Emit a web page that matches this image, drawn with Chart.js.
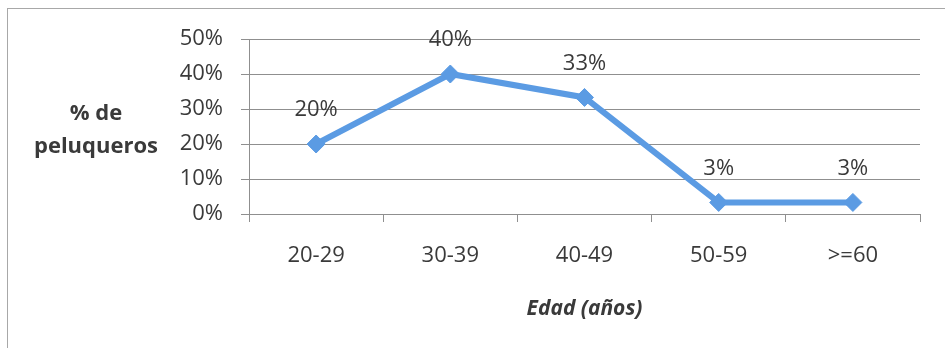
<!DOCTYPE html>
<html lang="es">
<head>
    <meta charset="UTF-8">
    <title>% de peluqueros por edad</title>
    <script src="https://cdn.jsdelivr.net/npm/chart.js"></script>
    <style>
        html, body {
            margin: 0;
            padding: 0;
            background: #ffffff;
            overflow: hidden;
        }
        .wrap {
            position: relative;
            width: 945px;
            height: 348px;
        }
        .frame {
            position: absolute;
            left: 7px;
            top: 8px;
            width: 1000px;
            height: 400px;
            border: 1px solid #a8a8a8;
        }
        canvas {
            position: absolute;
            left: 0;
            top: 0;
        }
    </style>
</head>
<body>
    <div class="wrap">
        <div class="frame"></div>
        <canvas id="chart" width="945" height="348"></canvas>
    </div>

    <script>
        // data
        const ageGroups = ['20-29', '30-39', '40-49', '50-59', '>=60'];
        const percentages = [20, 40, 33.3, 3.3, 3.3];
        const yTickValues = [0, 10, 20, 30, 40, 50];
        const yTitleLines = ['% de', 'peluqueros'];
        const xTitle = 'Edad (años)';

        const textColor = '#3a3a3a';
        const gridColor = '#8f8f8f';
        const lineColor = '#5b9be3';
        const fontFamily = '"Open Sans", "Liberation Sans", sans-serif';

        // value labels above each point + horizontal y-axis title
        const labelsPlugin = {
            id: 'labelsPlugin',
            afterDatasetsDraw(chart) {
                const ctx = chart.ctx;
                const meta = chart.getDatasetMeta(0);
                ctx.save();
                ctx.fillStyle = textColor;
                ctx.font = '22px ' + fontFamily;
                ctx.textAlign = 'center';
                ctx.textBaseline = 'middle';
                meta.data.forEach((pt, i) => {
                    ctx.fillText(Math.round(percentages[i]) + '%', pt.x, pt.y - 34);
                });

                ctx.font = 'bold 22px ' + fontFamily;
                ctx.fillText(yTitleLines[0], 96, 114);
                ctx.fillText(yTitleLines[1], 96, 147);
                ctx.restore();
            }
        };

        const ctx = document.getElementById('chart').getContext('2d');
        new Chart(ctx, {
            type: 'line',
            data: {
                labels: ageGroups,
                datasets: [{
                    data: percentages,
                    borderColor: lineColor,
                    backgroundColor: lineColor,
                    borderWidth: 6,
                    pointStyle: 'rectRot',
                    pointRadius: 9,
                    pointBorderWidth: 1,
                    pointBackgroundColor: lineColor,
                    pointBorderColor: lineColor,
                    tension: 0,
                    fill: false
                }]
            },
            options: {
                responsive: false,
                animation: false,
                layout: {
                    padding: { left: 0, top: 39, right: 25, bottom: 0 }
                },
                plugins: {
                    legend: { display: false },
                    tooltip: { enabled: false }
                },
                scales: {
                    x: {
                        offset: true,
                        grid: {
                            offset: true,
                            drawOnChartArea: false,
                            color: gridColor,
                            tickLength: 8
                        },
                        border: { color: gridColor },
                        ticks: {
                            color: textColor,
                            font: { family: fontFamily, size: 22 },
                            padding: 21,
                            maxRotation: 0
                        },
                        title: {
                            display: true,
                            text: xTitle,
                            color: textColor,
                            font: { family: fontFamily, size: 21, weight: 'bold', style: 'italic' },
                            padding: { top: 0, bottom: 26 }
                        },
                        afterFit(scale) {
                            scale.height = 134;
                        }
                    },
                    y: {
                        min: 0,
                        max: 50,
                        afterBuildTicks(scale) {
                            scale.ticks = yTickValues.map(v => ({ value: v }));
                        },
                        grid: {
                            color: gridColor,
                            tickLength: 8
                        },
                        border: { color: gridColor },
                        ticks: {
                            color: textColor,
                            font: { family: fontFamily, size: 22 },
                            padding: 18,
                            callback: v => v + '%'
                        },
                        afterFit(scale) {
                            scale.width = 249;
                        }
                    }
                }
            },
            plugins: [labelsPlugin]
        });
    </script>
</body>
</html>
